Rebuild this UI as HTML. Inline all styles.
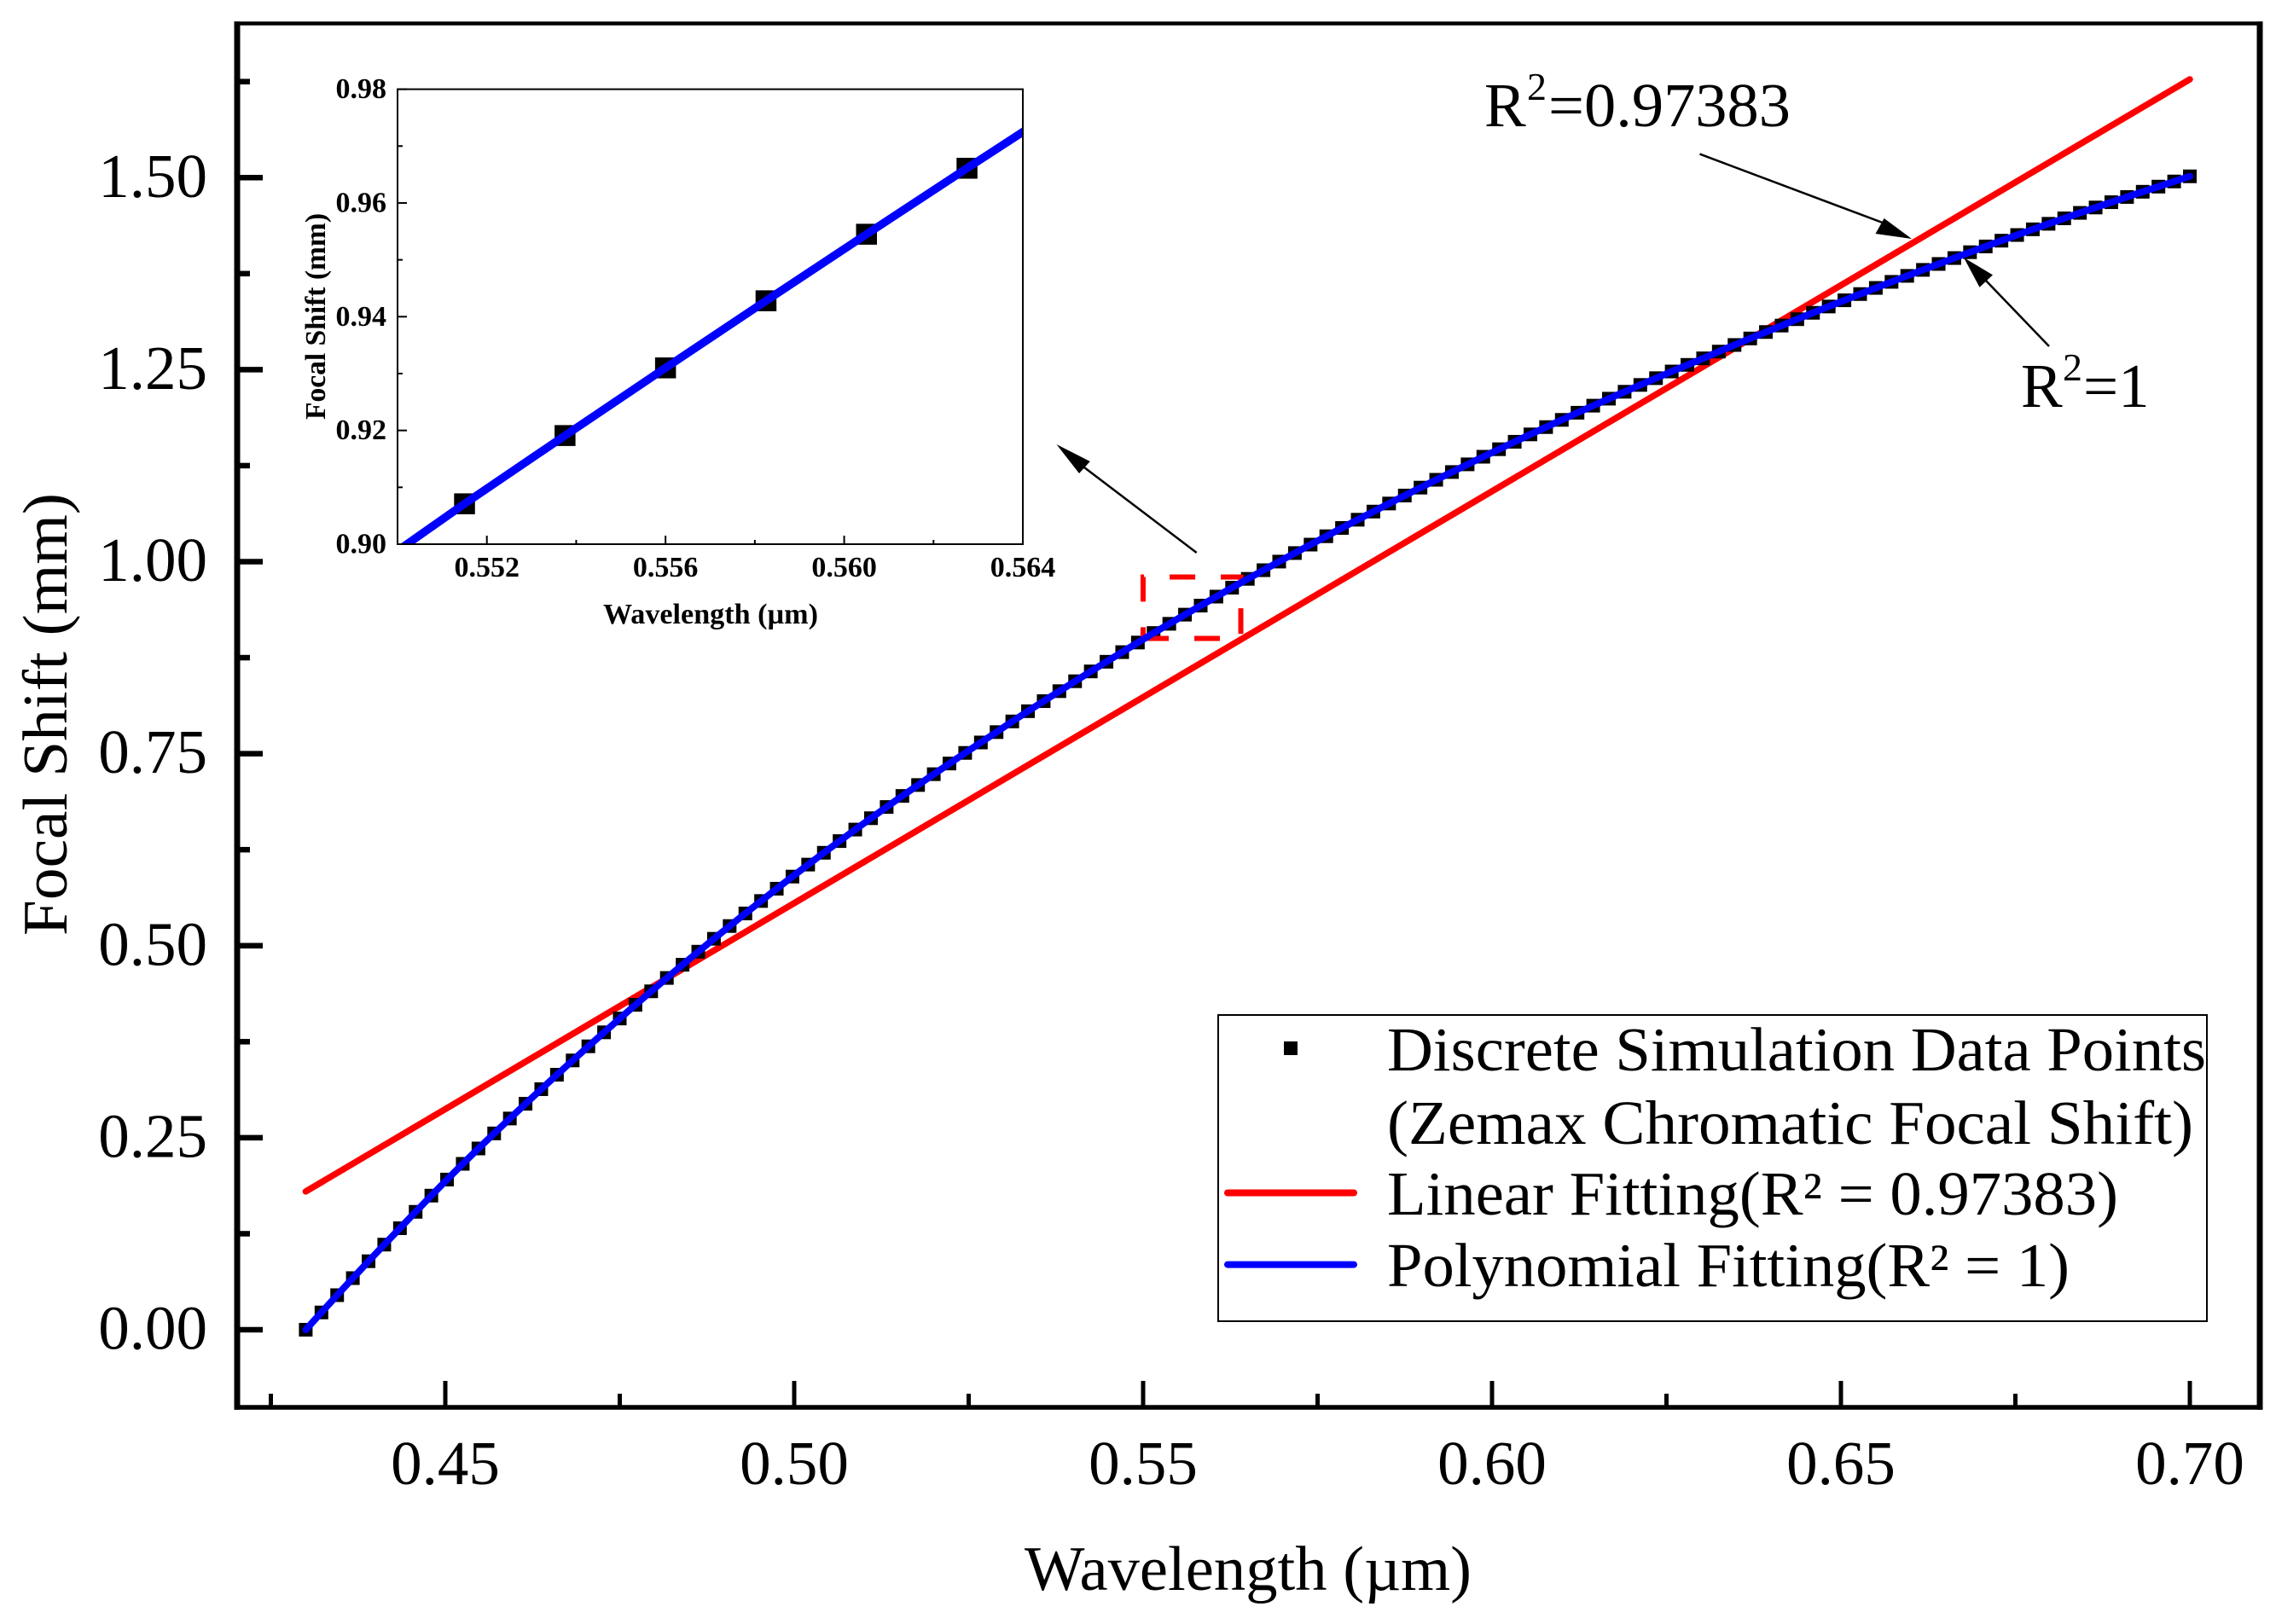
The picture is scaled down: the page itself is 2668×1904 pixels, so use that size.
<!DOCTYPE html>
<html lang="en">
<head>
<meta charset="utf-8">
<title>Focal Shift vs Wavelength</title>
<style>
html,body{margin:0;padding:0;background:#fff;}
svg{display:block;}
text{font-family:"Liberation Serif","DejaVu Serif",serif;fill:#000;}
.bold{font-weight:bold;}
</style>
</head>
<body>
<svg xmlns="http://www.w3.org/2000/svg" width="2668" height="1904" viewBox="0 0 2668 1904">
  <defs>
    <clipPath id="inset-clip"><rect x="466" y="104.6" width="733" height="533.4"/></clipPath>
  </defs>
  <rect x="0" y="0" width="2668" height="1904" fill="#fff"/>

  <g id="main-ticks"></g>
  <g id="main-tick-labels" font-size="73"></g>
  <g id="main-series"></g>

  <g>
    <line x1="274.5" y1="27.5" x2="2652.5" y2="27.5" stroke="#000" stroke-width="4.5"/>
    <line x1="274.5" y1="1650" x2="2652.5" y2="1650" stroke="#000" stroke-width="5.5"/>
    <line x1="278" y1="25.25" x2="278" y2="1652.75" stroke="#000" stroke-width="7"/>
    <line x1="2649" y1="25.25" x2="2649" y2="1652.75" stroke="#000" stroke-width="7"/>
  </g>

  <text x="1201" y="1864" font-size="74" textLength="524" lengthAdjust="spacingAndGlyphs">Wavelength (µm)</text>
  <text transform="translate(78,1097) rotate(-90)" font-size="74" textLength="519" lengthAdjust="spacingAndGlyphs">Focal Shift (mm)</text>

  <!-- inset -->
  <g id="inset-series" clip-path="url(#inset-clip)"></g>
  <g id="inset-ticks"></g>
  <g id="inset-tick-labels" class="bold" font-size="34"></g>
  <rect x="466" y="104.6" width="733" height="533.4" fill="none" stroke="#000" stroke-width="2"/>
  <text class="bold" x="707" y="731" font-size="34" textLength="252" lengthAdjust="spacingAndGlyphs">Wavelength (µm)</text>
  <text class="bold" transform="translate(381,492) rotate(-90)" font-size="34" textLength="242" lengthAdjust="spacingAndGlyphs">Focal Shift (mm)</text>

  <!-- annotations -->
  <g>
    <text x="1740" y="148" font-size="73">R</text>
    <text x="1790" y="117" font-size="46">2</text>
    <text x="1815" y="148" font-size="73" textLength="284" lengthAdjust="spacingAndGlyphs">=0.97383</text>
    <path d="M1992.5 180.6 L2212 263" fill="none" stroke="#000" stroke-width="2.5"/>
    <polygon points="2241,280 2208.6,256 2198.5,274" fill="#000"/>
  </g>
  <g>
    <text x="2369" y="477" font-size="73">R</text>
    <text x="2418" y="446" font-size="46">2</text>
    <text x="2442" y="477" font-size="73">=1</text>
    <path d="M2402 406 L2328 329" fill="none" stroke="#000" stroke-width="2.5"/>
    <polygon points="2302,302 2336,322.4 2320.5,336.7" fill="#000"/>
  </g>
  <g>
    <path d="M1402.7 648 L1271 548" fill="none" stroke="#000" stroke-width="2.5"/>
    <polygon points="1238.5,521 1277.8,541 1265,555" fill="#000"/>
  </g>

  <!-- legend -->
  <g>
    <rect x="1428" y="1190" width="1159" height="359" fill="#fff" stroke="#000" stroke-width="2"/>
    <rect x="1505" y="1221" width="16" height="16" fill="#000"/>
    <text x="1626" y="1255" font-size="73" textLength="960" lengthAdjust="spacingAndGlyphs">Discrete Simulation Data Points</text>
    <text x="1626" y="1341" font-size="73" textLength="945" lengthAdjust="spacingAndGlyphs">(Zemax Chromatic Focal Shift)</text>
    <line x1="1439" y1="1398.5" x2="1587" y2="1398.5" stroke="#f00" stroke-width="8" stroke-linecap="round"/>
    <text x="1626" y="1424" font-size="73" textLength="857" lengthAdjust="spacingAndGlyphs">Linear Fitting(R² = 0.97383)</text>
    <line x1="1439" y1="1482.6" x2="1587" y2="1482.6" stroke="#00f" stroke-width="8" stroke-linecap="round"/>
    <text x="1626" y="1508" font-size="73" textLength="800" lengthAdjust="spacingAndGlyphs">Polynomial Fitting(R² = 1)</text>
  </g>

<script>
const wavelengths = [
0.43,0.43225,0.4345,0.43675,0.439,0.44125,0.4435,0.44575,0.448,0.45025,0.4525,0.45475,0.457,0.45925,0.4615,0.46375,0.466,0.46825,0.4705,0.47275,
0.475,0.47725,0.4795,0.48175,0.484,0.48625,0.4885,0.49075,0.493,0.49525,0.4975,0.49975,0.502,0.50425,0.5065,0.50875,0.511,0.51325,0.5155,0.51775,
0.52,0.52225,0.5245,0.52675,0.529,0.53125,0.5335,0.53575,0.538,0.54025,0.5425,0.54475,0.547,0.54925,0.5515,0.55375,0.556,0.55825,0.5605,0.56275,
0.565,0.56725,0.5695,0.57175,0.574,0.57625,0.5785,0.58075,0.583,0.58525,0.5875,0.58975,0.592,0.59425,0.5965,0.59875,0.601,0.60325,0.6055,0.60775,
0.61,0.61225,0.6145,0.61675,0.619,0.62125,0.6235,0.62575,0.628,0.63025,0.6325,0.63475,0.637,0.63925,0.6415,0.64375,0.646,0.64825,0.6505,0.65275,
0.655,0.65725,0.6595,0.66175,0.664,0.66625,0.6685,0.67075,0.673,0.67525,0.6775,0.67975,0.682,0.68425,0.6865,0.68875,0.691,0.69325,0.6955,0.69775,0.70
];
const focalShift = [
0,0.0225,0.045,0.0672,0.0892,0.1108,0.1322,0.1535,0.1746,0.1955,0.216,0.236,0.2556,0.275,0.2942,0.3132,0.332,0.3506,0.369,0.3872,
0.4052,0.423,0.4406,0.458,0.4752,0.4922,0.509,0.5256,0.542,0.5582,0.5742,0.59,0.6056,0.621,0.6362,0.6512,0.666,0.6806,0.695,0.7092,
0.7233,0.7372,0.751,0.7646,0.7781,0.792,0.8053,0.8184,0.8314,0.8443,0.8571,0.8697,0.8822,0.8947,0.9071,0.9191,0.931,0.9428,0.9545,0.9661,
0.9776,0.9889,1.0001,1.0112,1.0222,1.0331,1.0439,1.0546,1.0652,1.0757,1.0861,1.0964,1.1066,1.1167,1.1267,1.1366,1.1464,1.1561,1.1657,1.1752,
1.1846,1.1939,1.2031,1.2122,1.2212,1.2301,1.2389,1.2476,1.2562,1.2647,1.2735,1.2821,1.2906,1.299,1.3074,1.3157,1.324,1.3322,1.3403,1.3484,
1.3564,1.3643,1.3721,1.3799,1.3876,1.3953,1.4029,1.4104,1.4179,1.4253,1.4327,1.4399,1.447,1.4541,1.4611,1.468,1.4748,1.4816,1.4883,1.495,1.5017
];
const linearFitX = [0.43, 0.70];
const linearFitY = [0.18, 1.628];
const xMajorTicks = [0.45,0.50,0.55,0.60,0.65,0.70];
const xMinorTicks = [0.425,0.475,0.525,0.575,0.625,0.675];
const xTickLabels = ["0.45","0.50","0.55","0.60","0.65","0.70"];
const yMajorTicks = [0,0.25,0.5,0.75,1,1.25,1.5];
const yMinorTicks = [0.125,0.375,0.625,0.875,1.125,1.375,1.625];
const yTickLabels = ["0.00","0.25","0.50","0.75","1.00","1.25","1.50"];
const insetXDomain = [0.55,0.564];
const insetYDomain = [0.90,0.98];
const insetXMajorTicks = [0.552,0.556,0.56,0.564];
const insetXMinorTicks = [0.554,0.558,0.562];
const insetXTickLabels = ["0.552","0.556","0.560","0.564"];
const insetYMajorTicks = [0.90,0.92,0.94,0.96,0.98];
const insetYMinorTicks = [0.91,0.93,0.95,0.97];
const insetYTickLabels = ["0.90","0.92","0.94","0.96","0.98"];

const NS = 'http://www.w3.org/2000/svg';
function mk(tag, parent, attrs){
  const el = document.createElementNS(NS, tag);
  for (const k in attrs) el.setAttribute(k, attrs[k]);
  parent.appendChild(el);
  return el;
}
function sx(v){ return 522 + (v - 0.45) * 8180; }
function sy(v){ return 1559 - v * 900.5; }
function ix(v){ return 466 + (v - insetXDomain[0]) / (insetXDomain[1] - insetXDomain[0]) * 733; }
function iy(v){ return 638 - (v - insetYDomain[0]) / (insetYDomain[1] - insetYDomain[0]) * 533.4; }
function linePath(xs, ys, fx, fy){
  return xs.map(function(x, i){ return (i ? 'L' : 'M') + fx(x).toFixed(2) + ' ' + fy(ys[i]).toFixed(2); }).join(' ');
}

const mainTicks = document.getElementById('main-ticks');
const mainLabels = document.getElementById('main-tick-labels');
const mainSeries = document.getElementById('main-series');
const insetSeries = document.getElementById('inset-series');
const insetTicks = document.getElementById('inset-ticks');
const insetLabels = document.getElementById('inset-tick-labels');

xMajorTicks.forEach(function(v, i){
  const t = mk('line', mainTicks, {x1:sx(v), x2:sx(v), y1:1650, y2:1619, stroke:'#000', 'stroke-width':5});
  
  
  const l = mk('text', mainLabels, {x:sx(v), y:1740, 'text-anchor':'middle'});
  l.textContent = xTickLabels[i];
  
  
});
xMinorTicks.forEach(function(v){
  const t = mk('line', mainTicks, {x1:sx(v), x2:sx(v), y1:1650, y2:1634, stroke:'#000', 'stroke-width':5});
  
  
});
yMajorTicks.forEach(function(v, i){
  const t = mk('line', mainTicks, {x1:278, x2:308, y1:sy(v), y2:sy(v), stroke:'#000', 'stroke-width':6.5});
  
  
  const l = mk('text', mainLabels, {x:243, y:sy(v) + 22.5, 'text-anchor':'end'});
  l.textContent = yTickLabels[i];
  
  
});
yMinorTicks.forEach(function(v){
  const t = mk('line', mainTicks, {x1:278, x2:293, y1:sy(v), y2:sy(v), stroke:'#000', 'stroke-width':6.5});
  
  
});

const redLine = mk('path', mainSeries, {d:linePath(linearFitX, linearFitY, sx, sy), fill:'none', stroke:'#f00', 'stroke-width':7.5, 'stroke-linecap':'round'});



wavelengths.forEach(function(w, i){
  const m = mk('rect', mainSeries, {x:sx(w) - 8, y:sy(focalShift[i]) - 8, width:16, height:16, fill:'#000'});
  
  
});

const zoomBox = mk('path', mainSeries, {
  d:'M' + sx(insetXDomain[0]) + ' ' + sy(insetYDomain[0]) + ' L' + sx(insetXDomain[1]) + ' ' + sy(insetYDomain[0]) + ' L' + sx(insetXDomain[1]) + ' ' + sy(insetYDomain[1]) + ' L' + sx(insetXDomain[0]) + ' ' + sy(insetYDomain[1]) + ' Z',
  fill:'none', stroke:'#f00', 'stroke-width':6, 'stroke-dasharray':'30 30'
});



const blueLine = mk('path', mainSeries, {d:linePath(wavelengths, focalShift, sx, sy), fill:'none', stroke:'#00f', 'stroke-width':8, 'stroke-linecap':'round', 'stroke-linejoin':'round'});



wavelengths.forEach(function(w, i){
  if (w < insetXDomain[0] || w > insetXDomain[1]) return;
  const m = mk('rect', insetSeries, {x:ix(w) - 12.25, y:iy(focalShift[i]) - 12.25, width:24.5, height:24.5, fill:'#000'});
  
  
});

/* only the points in or adjacent to the inset window, so the clipped line stays near the inset */
const insetIndexes = wavelengths.map(function(w, i){ return i; }).filter(function(i){
  const inside = function(k){ return k >= 0 && k < wavelengths.length && wavelengths[k] >= insetXDomain[0] && wavelengths[k] <= insetXDomain[1]; };
  return inside(i) || inside(i - 1) || inside(i + 1);
});
const insetLineX = insetIndexes.map(function(i){ return wavelengths[i]; });
const insetLineY = insetIndexes.map(function(i){ return focalShift[i]; });
const insetBlue = mk('path', insetSeries, {d:linePath(insetLineX, insetLineY, ix, iy), fill:'none', stroke:'#00f', 'stroke-width':9.5, 'stroke-linejoin':'round'});



insetXMajorTicks.forEach(function(v, i){
  const t = mk('line', insetTicks, {x1:ix(v), x2:ix(v), y1:638, y2:628, stroke:'#000', 'stroke-width':2});
  
  
  const l = mk('text', insetLabels, {x:ix(v), y:676, 'text-anchor':'middle'});
  l.textContent = insetXTickLabels[i];
  
  
});
insetXMinorTicks.forEach(function(v){
  const t = mk('line', insetTicks, {x1:ix(v), x2:ix(v), y1:638, y2:633, stroke:'#000', 'stroke-width':2});
  
  
});
insetYMajorTicks.forEach(function(v, i){
  const t = mk('line', insetTicks, {x1:466, x2:477, y1:iy(v), y2:iy(v), stroke:'#000', 'stroke-width':2});
  
  
  const l = mk('text', insetLabels, {x:453, y:iy(v) + 10.5, 'text-anchor':'end'});
  l.textContent = insetYTickLabels[i];
  
  
});
insetYMinorTicks.forEach(function(v){
  const t = mk('line', insetTicks, {x1:466, x2:472, y1:iy(v), y2:iy(v), stroke:'#000', 'stroke-width':2});
  
  
});
</script>
</svg>
</body>
</html>
